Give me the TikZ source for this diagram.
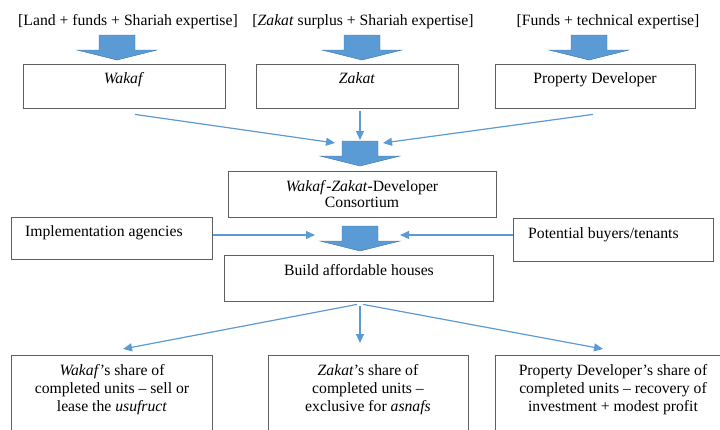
\documentclass[tikz,border=0pt]{standalone}
\usepackage{fontspec}
\setmainfont{Liberation Serif}
\usetikzlibrary{arrows.meta,calc}
\definecolor{arrowblue}{RGB}{91,155,213}
\definecolor{arrowedge}{RGB}{70,120,170}
\definecolor{boxgray}{RGB}{95,95,95}
\begin{document}
\begin{tikzpicture}[x=1pt,y=-1pt,
  box/.style={draw=boxgray,line width=1.4pt,anchor=north west,inner sep=0pt},
  lbl/.style={font=\fontsize{15.7}{18}\selectfont,inner sep=0pt,anchor=base},
  mlbl/.style={font=\fontsize{15.7}{18}\selectfont,inner sep=0pt,anchor=north,align=center},
  thinarrow/.style={draw=arrowblue,line width=1.2pt,-{Triangle[length=9pt,width=8pt]}},
  blockarrow/.style={fill=arrowblue,draw=arrowedge,line width=0.4pt},
  barrow/.pic={\path[blockarrow] (-18,0) -- (18,0) -- (18,15) -- (40,15) -- (0,25) -- (-40,15) -- (-18,15) -- cycle;}]
\useasboundingbox (0,0) rectangle (720,429);
\clip (0,0) rectangle (720,429);

% top labels
\node[lbl] (l1) at (128,25) {[Land + funds + Shariah expertise]};
\node[lbl] (l2) at (363,25) {[\textit{Zakat} surplus + Shariah expertise]};
\node[lbl] (l3) at (608,25) {[Funds + technical expertise]};

% block arrows top
\pic at (117,35) {barrow};
\pic at (362,35) {barrow};
\pic at (589,35) {barrow};

% top boxes
\node[box,minimum width=202pt,minimum height=44pt] (wakaf) at (23,64) {};
\node[box,minimum width=202pt,minimum height=44pt] (zakat) at (256,64) {};
\node[box,minimum width=200pt,minimum height=44pt] (pdev) at (495,64) {};
\node[lbl] (wakaft) at (124,83) {\textit{Wakaf}};
\node[lbl] (zakatt) at (357,83) {\textit{Zakat}};
\node[lbl] (pdevt) at (595,83) {Property Developer};

% consortium
\pic at (360,141) {barrow};
\node[box,minimum width=268pt,minimum height=46pt] (cons) at (228,171) {};
\node[mlbl,font=\fontsize{15.7}{16}\selectfont] (const) at (362,180) {\textit{Wakaf}-\textit{Zakat}-Developer\\Consortium};

\coordinate (c1) at (335,143);
\coordinate (c2) at (360,140);
\coordinate (c3) at (383,143);
\draw[thinarrow] ($(wakaf.south west)+(112,5)$) -- (c1);
\draw[thinarrow] ($(zakat.south west)+(104,2)$) -- (c2);
\draw[thinarrow] ($(pdev.south west)+(98,5)$) -- (c3);

% middle row
\node[box,minimum width=201pt,minimum height=42pt] (impl) at (11,217) {};
\node[lbl,anchor=base west] (implt) at (25,236) {Implementation agencies};
\node[box,minimum width=200pt,minimum height=43pt] (buy) at (513,218) {};
\node[lbl,anchor=base west] (buyt) at (528,238) {Potential buyers/tenants};

\pic at (360,226) {barrow};
\coordinate (m1) at (315,235);
\coordinate (m2) at (400,235);
\draw[thinarrow] (impl.east |- m1) -- (m1);
\draw[thinarrow] (buy.west |- m2) -- (m2);

\node[box,minimum width=269pt,minimum height=46pt] (build) at (224,255) {};
\node[lbl] (buildt) at (359,275) {Build affordable houses};

% bottom boxes
\node[box,minimum width=201pt,minimum height=100pt] (ws) at (11,355) {};
\node[box,minimum width=200pt,minimum height=100pt] (zs) at (268,355) {};
\node[box,minimum width=236pt,minimum height=100pt] (ps) at (495,355) {};
\node[mlbl] (wst) at (112,364) {\textit{Wakaf}'s share of\\completed units – sell or\\lease the \textit{usufruct}};
\node[mlbl] (zst) at (368,364) {\textit{Zakat}'s share of\\completed units –\\exclusive for \textit{asnafs}};
\node[mlbl] (pst) at (613,364) {Property Developer’s share of\\completed units – recovery of\\investment + modest profit};

\coordinate (b1) at (123,349);
\coordinate (b2) at (360,343);
\coordinate (b3) at (603,349);
\draw[thinarrow] ($(build.south west)+(133,2)$) -- (b1);
\draw[thinarrow] ($(build.south west)+(136,4)$) -- (b2);
\draw[thinarrow] ($(build.south west)+(139,2)$) -- (b3);
\end{tikzpicture}
\end{document}
